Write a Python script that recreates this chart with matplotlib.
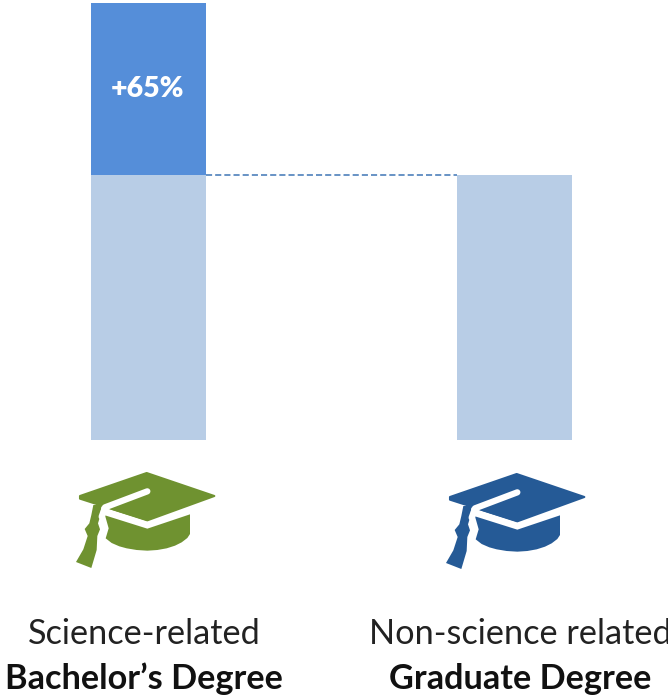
import matplotlib
matplotlib.use("Agg")
import matplotlib.pyplot as plt
from matplotlib.patches import Polygon

plt.rcParams["font.family"] = ["Lato", "DejaVu Sans"]

W, H = 668, 695

# bar heights, non-science graduate degree = 100
positions = [148.5, 514.5]
base_vals = [100, 100]
extra_vals = [65, 0]
extra_labels = ["+65%", ""]
line1 = ["Science-related", "Non-science related"]
line2 = ["Bachelor\u2019s Degree", "Graduate Degree"]
label_x = [144, 520]
cap_colors = ["#6F9230", "#255A96"]

fig = plt.figure(figsize=(W / 100, H / 100), dpi=100)

# bar axes: y=0 at pixel 440, y=165 at pixel 3
ax = fig.add_axes([0, (H - 440) / H, 1, (440 - 3) / H])
ax.set_xlim(0, W)
ax.set_ylim(0, 165)
ax.axis("off")
ax.bar(positions, base_vals, width=115, color="#B8CDE6")
ax.bar(positions, extra_vals, bottom=base_vals, width=115, color="#558ED9")
ax.plot([206, 457], [100, 100], color="#3F75B5", lw=1.1, ls=(0, (4, 2)))
ax.text(positions[0] - 1, 132.5, extra_labels[0], color="white", fontsize=20.5,
        fontweight="heavy", ha="center", va="center")

# full figure axes in pixel coords for caps and labels
pix = fig.add_axes([0, 0, 1, 1])
pix.set_xlim(0, W)
pix.set_ylim(H, 0)
pix.axis("off")


def cap(ox, oy, c):
    # outline points are in 1/3 pixel, measured from the cap crop corner
    def p(pts):
        return [(ox + a / 3, oy + b / 3) for a, b in pts]

    board = [(60, 108), (260, 39), (463, 108), (262, 181), (60, 116)]
    crown = [(135, 166), (262, 206), (390, 163), (390, 222), (382, 234), (365, 247), (345, 257), (320, 265),
             (292, 270), (262, 272), (230, 270), (200, 265), (178, 259), (155, 249), (137, 235), (146, 205)]
    tassel = [(100, 135), (125, 135), (120, 170), (114, 190), (120, 208), (112, 228), (110, 270), (94, 324),
              (48, 306), (70, 268), (83, 228), (74, 207), (88, 190), (94, 165)]
    pix.add_patch(Polygon(p(board), closed=True, fc=c, ec=c, lw=1.5, joinstyle="round"))
    pix.add_patch(Polygon(p(crown), closed=True, fc=c, ec="none"))
    # white cord across the board
    xs, ys = zip(*p([(262, 94), (135, 142), (125, 170)]))
    pix.plot(xs, ys, color="white", lw=4.5, solid_capstyle="round", solid_joinstyle="round")
    pix.add_patch(Polygon(p(tassel), closed=True, fc=c, ec="none"))
    # lower left of the board stays open beside the cord
    pix.add_patch(Polygon(p([(150, 148), (262, 183), (262, 100)]), closed=True, fc=c, ec="none"))


cap(60, 460, cap_colors[0])
cap(430, 461, cap_colors[1])

for x, a, b in zip(label_x, line1, line2):
    pix.text(x, 634, a, fontsize=24.7, color="#222222", ha="center", va="center")
    pix.text(x, 679, b, fontsize=24.7, fontweight="bold", color="#111111", ha="center", va="center")

fig.savefig("out.png", dpi=100)
